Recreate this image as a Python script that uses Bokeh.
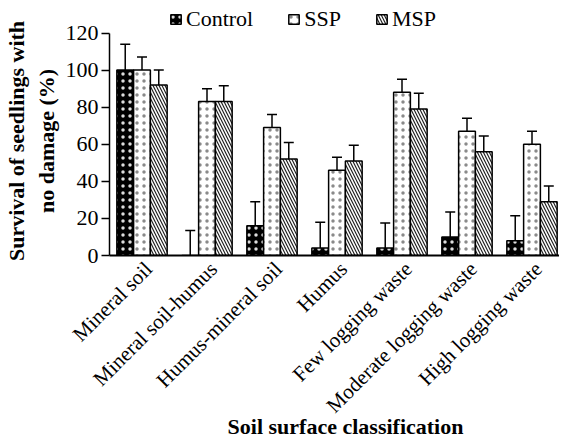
import math
from bokeh.plotting import figure
from bokeh.models import (ColumnDataSource, Whisker, TeeHead, Legend, LegendItem,
                          FixedTicker, Range1d)
from bokeh.embed import file_html
from bokeh.resources import INLINE

categories = ["Mineral soil", "Mineral soil-humus", "Humus-mineral soil", "Humus",
              "Few logging waste", "Moderate logging waste", "High logging waste"]
control = [100, 0, 16, 4, 4, 10, 8]
control_err = [14, 13.5, 13, 14, 13.5, 13.5, 13.5]
ssp = [100, 83, 69, 46, 88, 67, 60]
ssp_err = [7, 7, 7, 7, 7, 7, 7]
msp = [92, 83, 52, 51, 79, 56, 29]
msp_err = [8, 8.5, 9, 8.5, 8.5, 8.5, 8.5]
y_ticks = [0, 20, 40, 60, 80, 100, 120]

FONT = "Liberation Serif"
BAR_W = 0.258
FRAME_W = 450
STEP = 65
FRAME_H = 251
AXIS_PX = 222.5  # pixels spanned by 0..120
LABEL_SHIFT = 0.1
PAD = "\u00a0" * 4

idx = list(range(len(categories)))
label_pos = [round(i + LABEL_SHIFT, 2) for i in idx]

p = figure(width=556, height=442, output_backend="svg", toolbar_location=None,
           x_range=Range1d(-0.5, -0.5 + FRAME_W / STEP),
           y_range=Range1d(0, 120 * FRAME_H / AXIS_PX),
           frame_width=FRAME_W, frame_height=FRAME_H,
           min_border_left=106, min_border_right=0, min_border_top=4,
           min_border_bottom=10)
p.outline_line_color = None
p.grid.grid_line_color = None

series = [
    ("Control", control, control_err, -BAR_W,
     dict(fill_color="black", hatch_pattern="dot", hatch_color="#dddddd", hatch_scale=7)),
    ("SSP", ssp, ssp_err, 0.0,
     dict(fill_color="white", hatch_pattern="dot", hatch_color="#8a8a8a", hatch_scale=7)),
    ("MSP", msp, msp_err, BAR_W,
     dict(fill_color="white", hatch_pattern="\\", hatch_color="#222222", hatch_scale=6, hatch_weight=1.2)),
]

items = []
for name, vals, errs, off, style in series:
    xs = [i + off for i in idx]
    src = ColumnDataSource(dict(x=xs, top=vals, upper=[v + e for v, e in zip(vals, errs)]))
    w = Whisker(source=src, base="x", lower="top", upper="upper",
                line_color="black", line_width=1.5,
                upper_head=TeeHead(size=10, line_color="black", line_width=1.5),
                lower_head=None)
    p.add_layout(w)
    r = p.vbar(x="x", top="top", bottom=0, width=BAR_W, source=src,
               line_color="black", line_width=1.5, **style)
    items.append(LegendItem(label=name, renderers=[r]))

legend = Legend(items=items, orientation="horizontal", location=(60, 223),
                border_line_color=None, background_fill_alpha=0,
                label_text_font=FONT, label_text_font_size="22px",
                label_text_color="black",
                glyph_width=13, glyph_height=12, label_standoff=4,
                spacing=34, padding=2, margin=0)
p.add_layout(legend, "center")

# y axis
ya = p.yaxis[0]
ya.ticker = FixedTicker(ticks=y_ticks)
ya.bounds = (0, 120)
ya.minor_tick_line_color = None
ya.major_tick_out = 8
ya.major_tick_in = 0
ya.major_label_standoff = 3
ya.axis_line_width = 1.5
ya.major_tick_line_width = 1.5
ya.major_label_text_font = FONT
ya.major_label_text_font_size = "22px"
ya.major_label_text_color = "black"
ya.axis_label = "Survival of seedlings with" + PAD + "\nno damage (%)" + PAD
ya.axis_label_text_font = FONT
ya.axis_label_text_font_style = "bold"
ya.axis_label_text_font_size = "22px"
ya.axis_label_text_color = "black"
ya.axis_label_standoff = 4

# x axis
xa = p.xaxis[0]
xa.ticker = FixedTicker(ticks=label_pos)
xa.major_label_overrides = {t: c for t, c in zip(label_pos, categories)}
xa.major_label_orientation = math.pi / 4
xa.major_tick_line_color = None
xa.minor_tick_line_color = None
xa.axis_line_width = 2
xa.major_label_text_font = FONT
xa.major_label_text_font_size = "21px"
xa.major_label_text_color = "black"
xa.major_label_standoff = 4
xa.axis_label = PAD + "Soil surface classification"
xa.axis_label_text_font = FONT
xa.axis_label_text_font_style = "bold"
xa.axis_label_text_font_size = "22px"
xa.axis_label_text_color = "black"
xa.axis_label_standoff = -15

open("out.html", "w").write(file_html(p, INLINE))
